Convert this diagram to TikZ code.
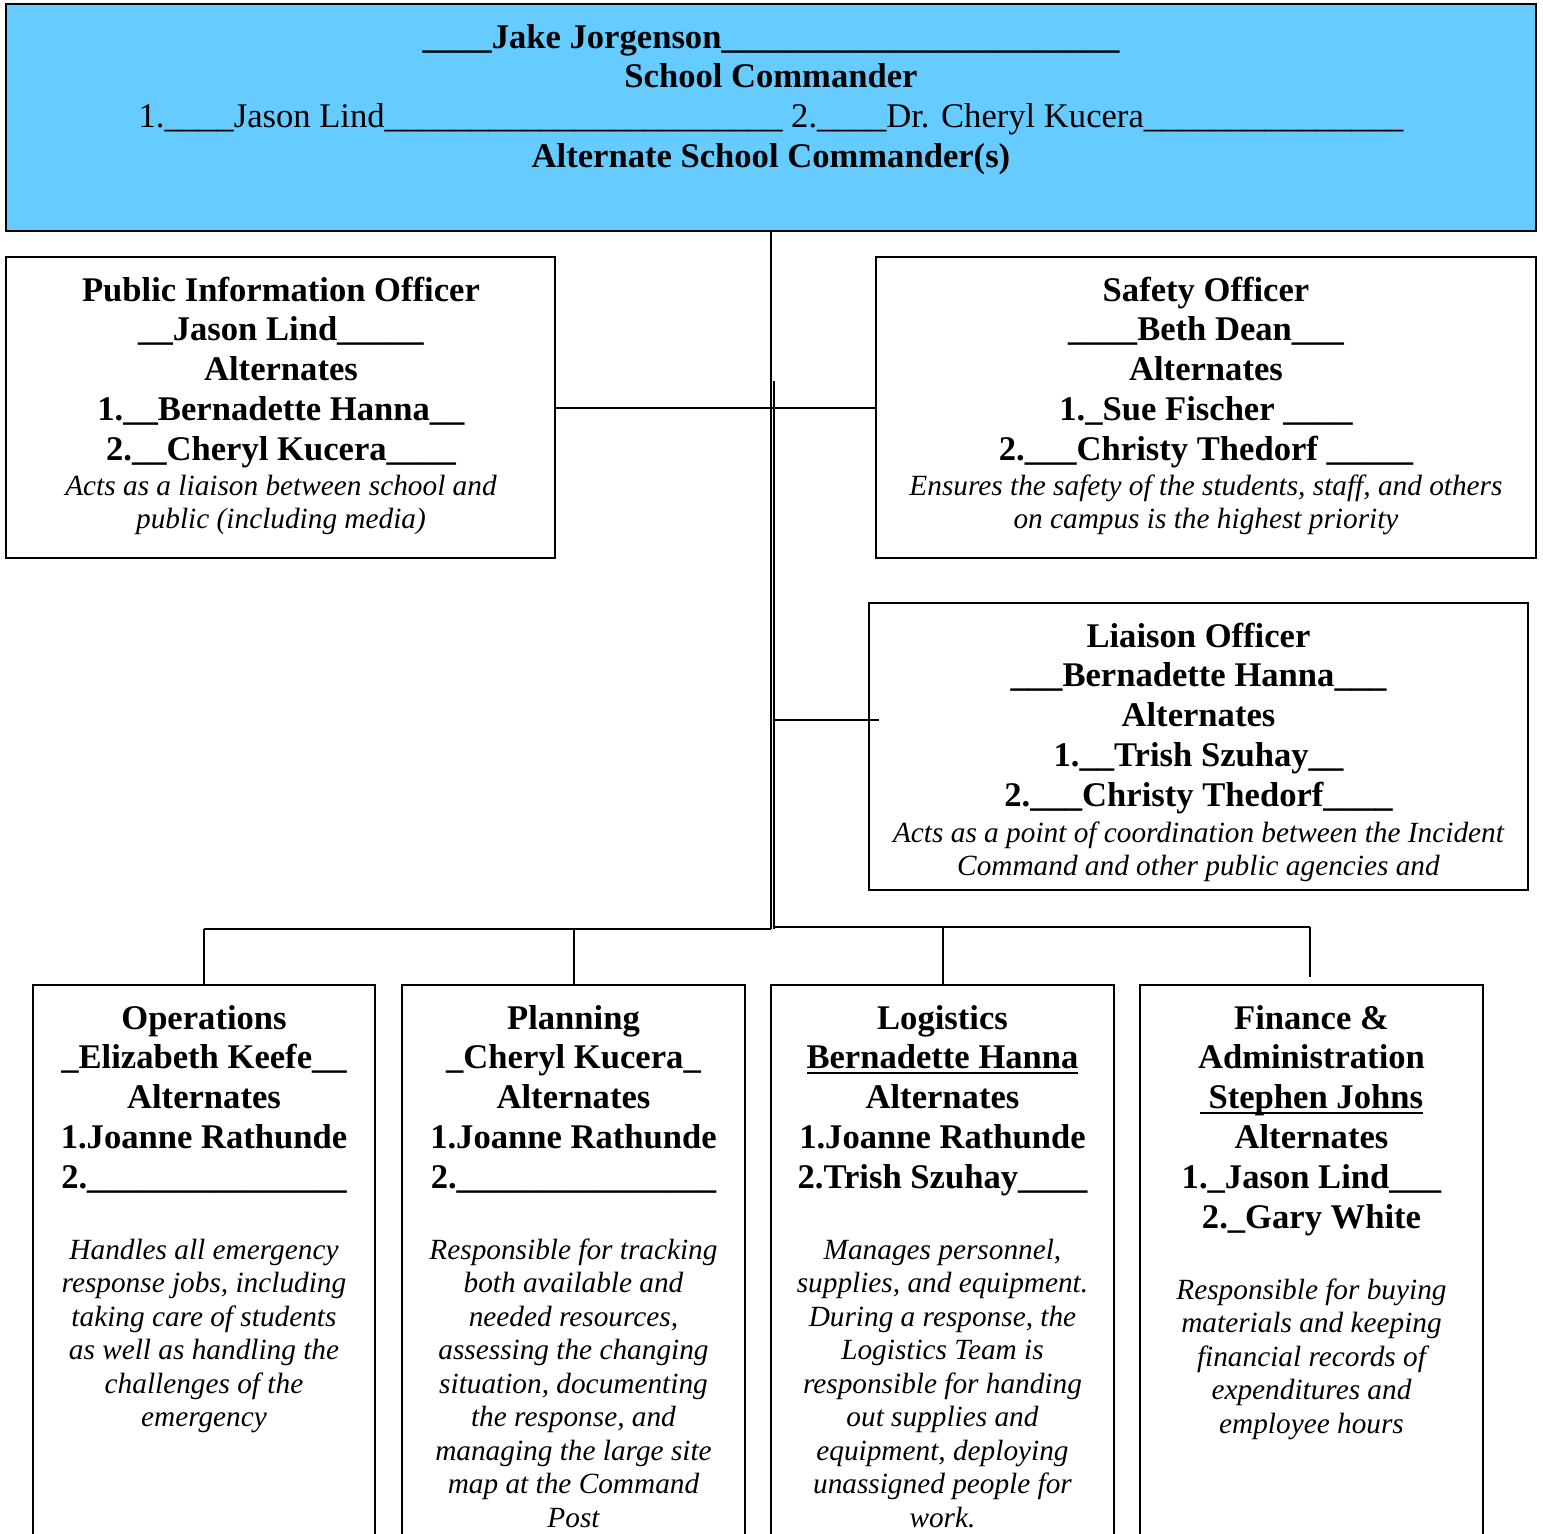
\documentclass[tikz,border=0pt]{standalone}
\usepackage{fontspec}
\setmainfont{Liberation Serif}
\usetikzlibrary{fit}
\definecolor{cmdblue}{HTML}{66CCFF}
\newsavebox\ulsave
\newcommand\hdtext[1]{\parbox[t]{700pt}{\centering\fontsize{17.3}{19.9}\selectfont\bfseries #1}}
\newcommand\desctext[1]{\parbox[t]{700pt}{\centering\fontsize{14.65}{16.75}\selectfont\itshape #1}}
\newcommand\ulbox[1]{\leavevmode\sbox\ulsave{#1}\rlap{\rule[-2.8pt]{\wd\ulsave}{1.2pt}}\usebox\ulsave}
\tikzset{
  box/.style={draw, line width=1.1pt, rectangle, inner sep=0pt, outer sep=0pt},
  txt/.style={anchor=base, inner sep=0pt, outer sep=0pt},
  link/.style={line width=1pt},
}
\begin{document}
\begin{tikzpicture}[x=0.5pt, y=-0.5pt]
\useasboundingbox (0,0) rectangle (1543,1533);
\clip (0,0) rectangle (1543,1533);

% boxes
\node[box, fill=cmdblue, line width=1.4pt, fit={(6,4) (1536,231)}] (cmd) {};
\node[box, fit={(6,257) (555,558)}] (pio) {};
\node[box, fit={(876,257) (1536,558)}] (saf) {};
\node[box, fit={(869,603) (1528,890)}] (lia) {};
\node[box, fit={(33,985) (375,1560)}] (ops) {};
\node[box, fit={(402,985) (745,1560)}] (pln) {};
\node[box, fit={(771,985) (1114,1560)}] (lgs) {};
\node[box, fit={(1140,985) (1483,1560)}] (fin) {};

% texts
\node[txt] (cmdt) at (771,48) {\hdtext{\_\_\_\_Jake Jorgenson\_\_\_\_\_\_\_\_\_\_\_\_\_\_\_\_\_\_\_\_\_\_\_\\
School Commander\\
{\mdseries 1.\_\_\_\_Jason Lind\_\_\_\_\_\_\_\_\_\_\_\_\_\_\_\_\_\_\_\_\_\_\_ 2.\_\_\_\_Dr. Cheryl Kucera\_\_\_\_\_\_\_\_\_\_\_\_\_\_\_}\\
Alternate School Commander(s)}};

\node[txt] (piot) at (281,301) {\hdtext{Public Information Officer\\
\_\_Jason Lind\_\_\_\_\_\\
Alternates\\
1.\_\_Bernadette Hanna\_\_\\
2.\_\_Cheryl Kucera\_\_\_\_}};
\node[txt] (piod) at (281,495) {\desctext{Acts as a liaison between school and\\
public (including media)}};

\node[txt] (saft) at (1206,301) {\hdtext{Safety Officer\\
\_\_\_\_Beth Dean\_\_\_\\
Alternates\\
1.\_Sue Fischer \_\_\_\_\\
2.\_\_\_Christy Thedorf \_\_\_\_\_}};
\node[txt] (safd) at (1206,495) {\desctext{Ensures the safety of the students, staff, and others\\
on campus is the highest priority}};

\node[txt] (liat) at (1198.5,647) {\hdtext{Liaison Officer\\
\_\_\_Bernadette Hanna\_\_\_\\
Alternates\\
1.\_\_Trish Szuhay\_\_\\
2.\_\_\_Christy Thedorf\_\_\_\_}};
\node[txt] (liad) at (1198.5,842) {\desctext{Acts as a point of coordination between the Incident\\
Command and other public agencies and}};

\node[txt] (opst) at (204,1029) {\hdtext{Operations\\
\_Elizabeth Keefe\_\_\\
Alternates\\
1.Joanne Rathunde\\
2.\_\_\_\_\_\_\_\_\_\_\_\_\_\_\_}};
\node[txt] (opsd) at (204,1259) {\desctext{Handles all emergency\\
response jobs, including\\
taking care of students\\
as well as handling the\\
challenges of the\\
emergency}};

\node[txt] (plnt) at (573.5,1029) {\hdtext{Planning\\
\_Cheryl Kucera\_\\
Alternates\\
1.Joanne Rathunde\\
2.\_\_\_\_\_\_\_\_\_\_\_\_\_\_\_}};
\node[txt] (plnd) at (573.5,1259) {\desctext{Responsible for tracking\\
both available and\\
needed resources,\\
assessing the changing\\
situation, documenting\\
the response, and\\
managing the large site\\
map at the Command\\
Post}};

\node[txt] (lgst) at (942.5,1029) {\hdtext{Logistics\\
\ulbox{Bernadette Hanna}\\
Alternates\\
1.Joanne Rathunde\\
2.Trish Szuhay\_\_\_\_}};
\node[txt] (lgsd) at (942.5,1259) {\desctext{Manages personnel,\\
supplies, and equipment.\\
During a response, the\\
Logistics Team is\\
responsible for handing\\
out supplies and\\
equipment, deploying\\
unassigned people for\\
work.}};

\node[txt] (fint) at (1311.5,1029) {\hdtext{Finance \&\\
Administration\\
\ulbox{\ Stephen Johns}\\
Alternates\\
1.\_Jason Lind\_\_\_\\
2.\_Gary White}};
\node[txt] (find) at (1311.5,1299) {\desctext{Responsible for buying\\
materials and keeping\\
financial records of\\
expenditures and\\
employee hours}};

% connector points
\coordinate (busL) at (771,929);
\coordinate (v2top) at (774,381);
\coordinate (v2bot) at (774,929);
\coordinate (liaJ) at (774,720);
\coordinate (liaEnd) at (879,720);
\coordinate (opsJ) at (204,929);
\coordinate (plnJ) at (573.5,929);
\coordinate (busM) at (773,927);
\coordinate (lgsJ) at (942.5,927);
\coordinate (finJ) at (1310,927);
\coordinate (finEnd) at (1310,977);

% connectors
\draw[link, line width=1.4pt] (cmd.south) -- (busL);
\draw[link] (v2top) -- (v2bot);
\draw[link] (pio.east) -- (saf.west);
\draw[link] (liaJ) -- (liaEnd);
\draw[link] (opsJ) -- (busL);
\draw[link] (busM) -- (finJ);
\draw[link] (opsJ) -- (ops.north);
\draw[link] (plnJ) -- (pln.north);
\draw[link] (lgsJ) -- (lgs.north);
\draw[link] (finJ) -- (finEnd);
\end{tikzpicture}
\end{document}
